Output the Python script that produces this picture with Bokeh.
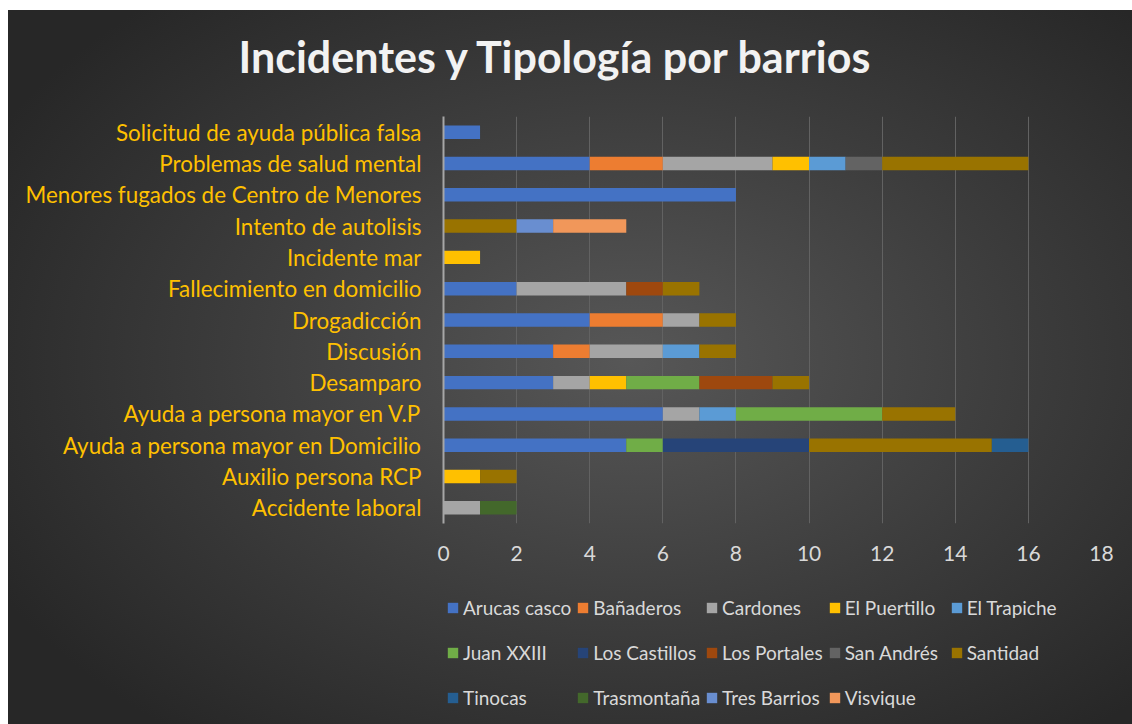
from bokeh.plotting import figure
from bokeh.layouts import column
from bokeh.models import (ColumnDataSource, FactorRange, Range1d, Legend, LegendItem,
                          FixedTicker)
from bokeh.embed import file_html
from bokeh.resources import INLINE

title_text = "Incidentes y Tipología por barrios"

categories = [
    "Accidente laboral",
    "Auxilio persona RCP",
    "Ayuda a persona mayor en Domicilio",
    "Ayuda a persona mayor en V.P",
    "Desamparo",
    "Discusión",
    "Drogadicción",
    "Fallecimiento en domicilio",
    "Incidente mar",
    "Intento de autolisis",
    "Menores fugados de Centro de Menores",
    "Problemas de salud mental",
    "Solicitud de ayuda pública falsa",
]

barrios = ["Arucas casco", "Bañaderos", "Cardones", "El Puertillo", "El Trapiche",
           "Juan XXIII", "Los Castillos", "Los Portales", "San Andrés", "Santidad",
           "Tinocas", "Trasmontaña", "Tres Barrios", "Visvique"]

arucas_casco = [0, 0, 5, 6, 3, 3, 4, 2, 0, 0, 8, 4, 1]
banaderos    = [0, 0, 0, 0, 0, 1, 2, 0, 0, 0, 0, 2, 0]
cardones     = [1, 0, 0, 1, 1, 2, 1, 3, 0, 0, 0, 3, 0]
el_puertillo = [0, 1, 0, 0, 1, 0, 0, 0, 1, 0, 0, 1, 0]
el_trapiche  = [0, 0, 0, 1, 0, 1, 0, 0, 0, 0, 0, 1, 0]
juan_xxiii   = [0, 0, 1, 4, 2, 0, 0, 0, 0, 0, 0, 0, 0]
los_castillos = [0, 0, 4, 0, 0, 0, 0, 0, 0, 0, 0, 0, 0]
los_portales = [0, 0, 0, 0, 2, 0, 0, 1, 0, 0, 0, 0, 0]
san_andres   = [0, 0, 0, 0, 0, 0, 0, 0, 0, 0, 0, 1, 0]
santidad     = [0, 1, 5, 2, 1, 1, 1, 1, 0, 2, 0, 4, 0]
tinocas      = [0, 0, 1, 0, 0, 0, 0, 0, 0, 0, 0, 0, 0]
trasmontana  = [1, 0, 0, 0, 0, 0, 0, 0, 0, 0, 0, 0, 0]
tres_barrios = [0, 0, 0, 0, 0, 0, 0, 0, 0, 1, 0, 0, 0]
visvique     = [0, 0, 0, 0, 0, 0, 0, 0, 0, 2, 0, 0, 0]

series = [arucas_casco, banaderos, cardones, el_puertillo, el_trapiche, juan_xxiii,
          los_castillos, los_portales, san_andres, santidad, tinocas, trasmontana,
          tres_barrios, visvique]

colors = ["#4472C4", "#ED7D31", "#A5A5A5", "#FFC000", "#5B9BD5", "#70AD47",
          "#264478", "#9E480E", "#636363", "#997300", "#255E91", "#43682B",
          "#698ED0", "#F1975A"]

x_ticks = [0, 2, 4, 6, 8, 10, 12, 14, 16, 18]

keys = ["s%d" % i for i in range(len(barrios))]
data = {"cat": categories}
for k, s in zip(keys, series):
    data[k] = s
source = ColumnDataSource(data)

W = 1124
BL, BR = 435, 31


def clear(fig):
    fig.background_fill_alpha = 0
    fig.border_fill_alpha = 0
    fig.outline_line_alpha = 0


# ---- title strip ----
t = figure(width=W, height=80, output_backend="svg", toolbar_location=None,
           x_axis_type=None, y_axis_type=None, title=title_text,
           min_border_left=BL, min_border_right=BR, min_border_top=76,
           min_border_bottom=0)
clear(t)
t.grid.visible = False
t.title.align = "left"
t.title.offset = -205
t.title.standoff = 10
t.title.text_font = "Lato"
t.title.text_font_style = "bold"
t.title.text_font_size = "43px"
t.title.text_color = "#f2f2f2"

# ---- chart ----
p = figure(width=W, height=485, output_backend="svg", toolbar_location=None,
           y_range=FactorRange(factors=categories), x_range=Range1d(0, 18),
           min_border_left=BL, min_border_right=BR, min_border_top=26,
           min_border_bottom=52)
clear(p)

renderers = p.hbar_stack(keys, y="cat", height=0.43, color=colors, line_color=None,
                         source=source)

p.xaxis.ticker = FixedTicker(ticks=x_ticks)
p.xaxis.axis_line_alpha = 0
p.xaxis.major_tick_line_alpha = 0
p.xaxis.minor_tick_line_alpha = 0
p.xaxis.major_label_text_font = "Lato"
p.xaxis.major_label_text_font_size = "21px"
p.xaxis.major_label_text_color = "#d9d9d9"
p.xaxis.major_label_standoff = 16

p.yaxis.axis_line_color = "#a6a6a6"
p.yaxis.axis_line_width = 2
p.yaxis.major_tick_line_alpha = 0
p.yaxis.minor_tick_line_alpha = 0
p.yaxis.major_label_text_font = "Lato"
p.yaxis.major_label_text_font_size = "22.4px"
p.yaxis.major_label_text_color = "#FFC000"
p.yaxis.major_label_standoff = 16

p.xgrid.grid_line_color = "#626262"
p.xgrid.grid_line_width = 1
p.ygrid.grid_line_alpha = 0

# ---- legend strip ----
lg = figure(width=W, height=149, output_backend="svg", toolbar_location=None,
            x_axis_type=None, y_axis_type=None,
            x_range=Range1d(-10, -9), y_range=FactorRange(factors=categories),
            min_border_left=BL, min_border_right=BR, min_border_top=0,
            min_border_bottom=0)
clear(lg)
lg.grid.visible = False

legend_glyphs = lg.hbar_stack(keys, y="cat", height=0, color=colors,
                              line_color=None, source=source)
items = [LegendItem(label=n, renderers=[r]) for n, r in zip(barrios, legend_glyphs)]

legend = Legend(items=items, orientation="horizontal", ncols=5, location=(3, 7),
                glyph_width=13, glyph_height=13, label_standoff=4,
                label_width=100, label_height=40, spacing=5, padding=0, margin=0,
                label_text_font="Lato", label_text_font_size="19px",
                label_text_color="#d9d9d9",
                background_fill_alpha=0, border_line_alpha=0)
lg.add_layout(legend, "center")

layout = column(t, p, lg, spacing=0)
layout.styles = {"margin-left": "8px", "margin-top": "10px",
                 "background": "radial-gradient(720px 480px at 622px 350px, #575757 0%, #3c3c3c 55%, #272727 100%)"}

open("out.html", "w").write(file_html(layout, INLINE))
